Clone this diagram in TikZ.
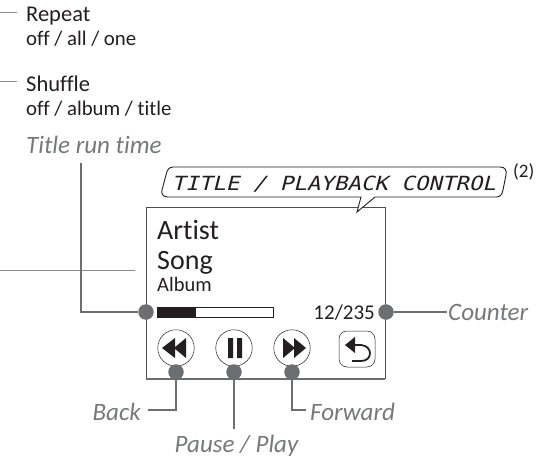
\documentclass[tikz,border=0pt]{standalone}
\usepackage{fontspec}
\usetikzlibrary{calc}
\setmainfont{Carlito}[Ligatures={NoCommon}]
\newfontfamily\lcd{DejaVu Sans Mono}[FakeSlant=0.25,FakeStretch=1.15]
\definecolor{lg}{HTML}{6D6E70}
\definecolor{dk}{HTML}{231F20}
\definecolor{tg}{HTML}{77787B}
\tikzset{x=1pt,y=-1pt,
 conn/.style={draw=lg,line width=2.2pt},
 thinln/.style={draw=lg!80,line width=0.9pt},
 dotn/.style={circle,fill=lg,inner sep=0pt,minimum size=15.5pt},
 btn/.style={circle,draw=dk,line width=0.5pt,fill=white,inner sep=0pt,minimum size=36.5pt},
 lab/.style={font=\fontsize{22.5}{22.5}\selectfont,text=dk,inner sep=0pt,anchor=base west},
 sub/.style={font=\fontsize{20.8}{20.8}\selectfont,text=dk,inner sep=0pt,anchor=base west},
 ital/.style={font=\itshape\fontsize{25}{25}\selectfont,text=tg,inner sep=0pt},
 scr/.style={font=\fontsize{28}{28}\selectfont,text=dk,inner sep=0pt,anchor=base west}}
\begin{document}
\begin{tikzpicture}
\useasboundingbox (0,0) rectangle (550,461);
\node[lab] (rep) at (26,21) {Repeat};
\node[sub] (repsub) at (26,45) {off / all / one};
\node[lab] (shu) at (26,91) {Shuffle};
\node[sub] (shusub) at (26,115) {off / album / title};
\coordinate (r0) at (0,12.5);
\coordinate (r1) at (17,12.5);
\coordinate (s0) at (0,81);
\coordinate (s1) at (17,81);
\draw[thinln] (r0) -- (r1);
\draw[thinln] (s0) -- (s1);
\node[ital,anchor=base west] (trt) at (26,153) {Title run time};
% screen
\draw[draw=dk!80,line width=0.7pt] (146,379) -- (146,207) -- (385,207) -- (385,379);
\draw[draw=lg,line width=1.4pt] (146,379) -- (385,379);
\coordinate (sl) at (135,270);
\coordinate (sl0) at (0,270);
\draw[thinln] (sl0) -- (sl);
% callout
\draw[draw=dk,line width=0.9pt,fill=white] (168,197) .. controls (163,197) and (161,194) .. (162,190)
 -- (166,175) .. controls (167,170) and (169,167) .. (173,167) -- (500,167)
 .. controls (505,167) and (507,170) .. (506,175) -- (503,190) .. controls (502,195) and (500,197) .. (496,197)
 -- (375,197) -- (357,212) -- (361,197) -- cycle;
\node[font=\lcd\fontsize{19.5}{19.5}\selectfont,text=dk,inner sep=0pt,anchor=base] (ttl2) at (334,190) {TITLE / PLAYBACK CONTROL};
\node[font=\fontsize{19}{19}\selectfont,text=dk,inner sep=0pt,anchor=base west] (two) at (513,177) {(2)};
% screen texts
\node[scr] (art) at (157,239) {Artist};
\node[scr] (song) at (157,269) {Song};
\node[font=\fontsize{20.5}{20.5}\selectfont,text=dk,inner sep=0pt,anchor=base west] (alb) at (157,291) {Album};
% progress
\node[draw=dk,line width=0.7pt,fill=white,minimum width=116pt,minimum height=10pt,inner sep=0pt,anchor=west] (bar) at (157,312) {};
\fill[dk] (bar.north west) rectangle ($(bar.south west)+(39,0)$);
\node[font=\fontsize{21}{21}\selectfont,text=dk,inner sep=0pt,anchor=base east] (cnt) at (375,319) {12/235};
% connectors
\node[dotn] (d1) at (146,312) {};
\node[dotn] (d2) at (386,312) {};
\coordinate (v1) at (81,163);
\coordinate (v2) at (81,312);
\draw[conn] (v1) -- (v2) -- (d1);
\node[ital,anchor=base west] (ctr) at (448,320) {Counter};
\draw[conn,line width=1.6pt] (d2) -- ($(ctr.west |- d2)+(-1,0)$);
% buttons
\node[btn] (b1) at (176,348) {};
\node[btn] (b2) at (234,348) {};
\node[btn] (b3) at (292,348) {};
\fill[dk] (162,348) -- (175,338) -- (175,358) -- cycle (174,348) -- (186,338) -- (186,358) -- cycle;
\fill[dk] (228,338) rectangle (233,358) (237,338) rectangle (242,358);
\fill[dk] (306,348) -- (294,338) -- (294,358) -- cycle (283,338) -- (283,358) -- (295,348) -- cycle;
\draw[draw=dk,line width=0.5pt,rounded corners=8pt] (339,331) rectangle (375,367);
\draw[dk,line width=1.8pt] (352,345) -- (361,345) .. controls (373,346) and (373,361) .. (361,361) -- (352,361);
\fill[dk] (345,345) -- (355,337) -- (355,353) -- cycle;
\node[dotn] (d3) at (176,372) {};
\node[dotn] (d4) at (234,372) {};
\node[dotn] (d5) at (292,372) {};
\node[ital,anchor=base east] (back) at (141,420) {Back};
\node[ital,anchor=base west] (fwd) at (310,420) {Forward};
\node[ital,anchor=base] (pp) at (236.5,452) {Pause / Play};
\coordinate (bk) at (148,410);
\coordinate (fw) at (306,410);
\coordinate (pe) at (234,429);
\draw[conn,line width=1.8pt] (d3) |- (bk);
\draw[conn,line width=1.8pt] (d4) -- (pe);
\draw[conn,line width=1.8pt] (d5) |- (fw);
\end{tikzpicture}
\end{document}
